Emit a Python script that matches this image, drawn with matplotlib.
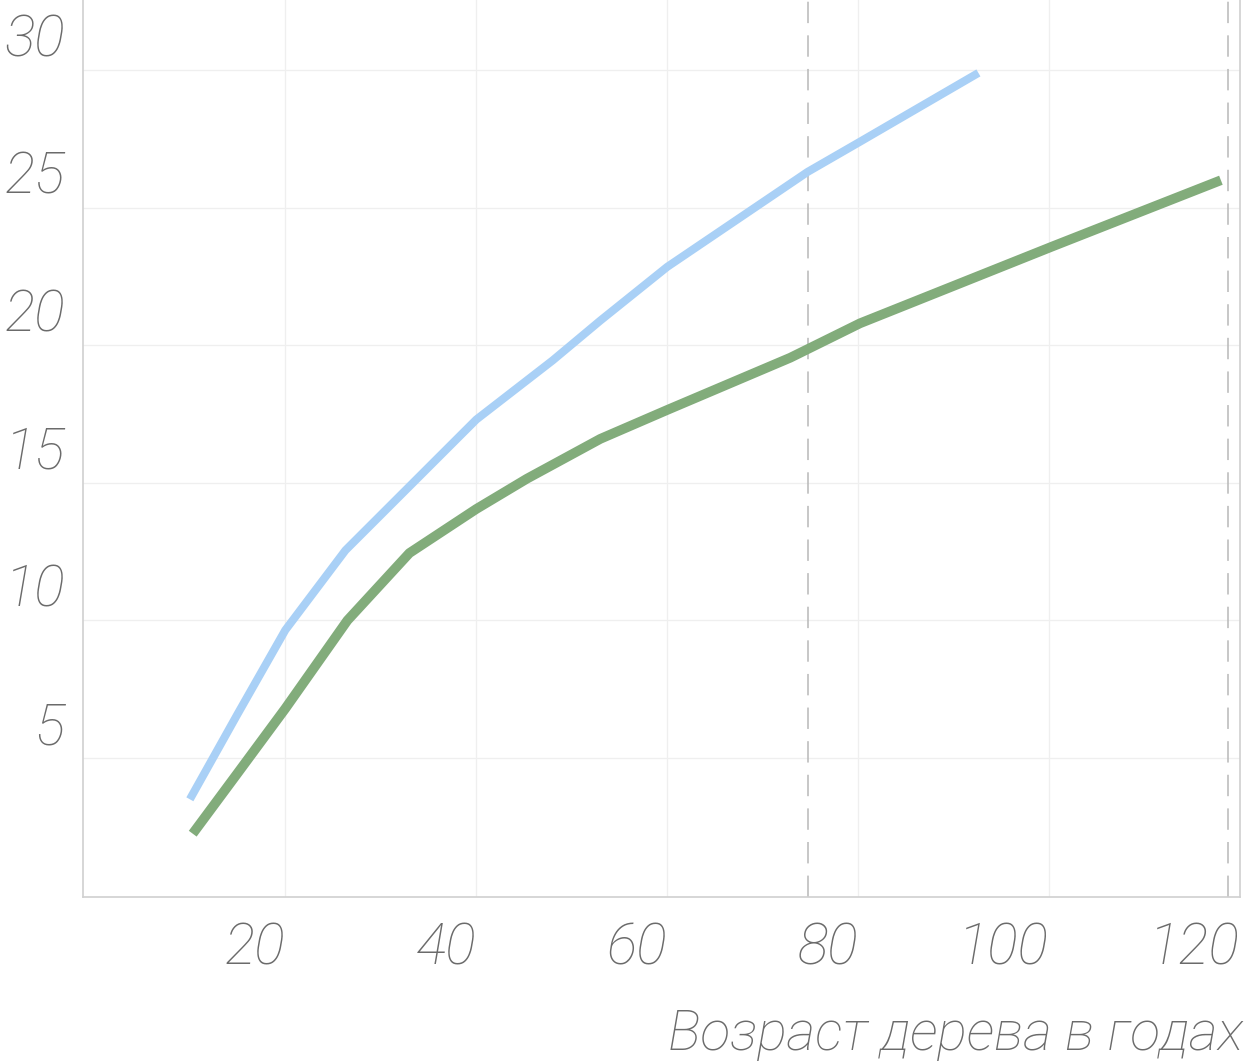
import numpy as np
import matplotlib
matplotlib.use("Agg")
import matplotlib.pyplot as plt
from matplotlib.transforms import ScaledTranslation, blended_transform_factory

# values (age in years, height in m)
blue_age = [10, 15, 20, 26.3, 40, 48, 53, 60, 74.7, 80.2, 92.6]
blue_h = [3.5, 6.6, 9.65, 12.55, 17.3, 19.45, 20.9, 22.85, 26.3, 27.4, 29.9]

green_age = [10.3, 15, 20, 26.5, 33, 40, 45.3, 53, 60, 72.9, 80.2, 100.4, 118]
green_h = [2.25, 4.45, 6.8, 10.0, 12.45, 14.05, 15.15, 16.6, 17.65, 19.55, 20.8, 23.6, 26.0]

x_ticks = [20, 40, 60, 80, 100, 120]
y_ticks = [5, 10, 15, 20, 25, 30]
dashed_x = [74.8, 118.7]
xlabel = "Возраст дерева в годах"

txt_color = "#6b6b6b"
font = dict(family=["Roboto", "DejaVu Sans"], weight="light", style="italic")

fig = plt.figure(figsize=(12.51, 10.61), dpi=100)
ax = fig.add_axes([0.0663, 0.1546, 0.9249, 0.8454])

ax.set_xlim(-1.2, 120)
ax.set_ylim(-0.05, 32.55)

# faint grid + the two dashed verticals
for v in y_ticks:
    ax.axhline(v, color="#efefef", lw=0.9, zorder=0)
for v in x_ticks[:-1]:
    ax.axvline(v, color="#efefef", lw=0.9, zorder=0)
for v in dashed_x:
    ax.axvline(v, color="#b8b8b8", lw=1.1, ls=(0, (14, 8)), zorder=1)

ax.plot(blue_age, blue_h, color="#a9d0f6", lw=5.8, solid_capstyle="butt",
        solid_joinstyle="round", zorder=3)
ax.plot(green_age, green_h, color="#82ac7b", lw=7.0, solid_capstyle="butt",
        solid_joinstyle="round", zorder=3)

for s in ["left", "bottom", "right"]:
    ax.spines[s].set_color("#d0d0d0")
    ax.spines[s].set_linewidth(1.2)
ax.spines["top"].set_visible(False)
ax.set_xticks([])
ax.set_yticks([])

# y labels sit above their grid lines, x labels end at theirs
ytr = blended_transform_factory(ax.transAxes, ax.transData) + \
    ScaledTranslation(0, 0.14, fig.dpi_scale_trans)
for v in y_ticks:
    ax.text(-18 / 1157, v, str(v), transform=ytr, ha="right", va="baseline",
            fontsize=41, color=txt_color, **font)

xtr = blended_transform_factory(ax.transData, ax.transAxes) + \
    ScaledTranslation(0, -0.68, fig.dpi_scale_trans)
for v in x_ticks:
    ax.text(v, 0, str(v), transform=xtr, ha="right", va="baseline",
            fontsize=41, color=txt_color, **font)

fig.text(1243 / 1251, 1 - 1050 / 1061, xlabel, ha="right", va="baseline",
         fontsize=40, color=txt_color, **font)

fig.savefig("out.png", dpi=100, facecolor="white")
